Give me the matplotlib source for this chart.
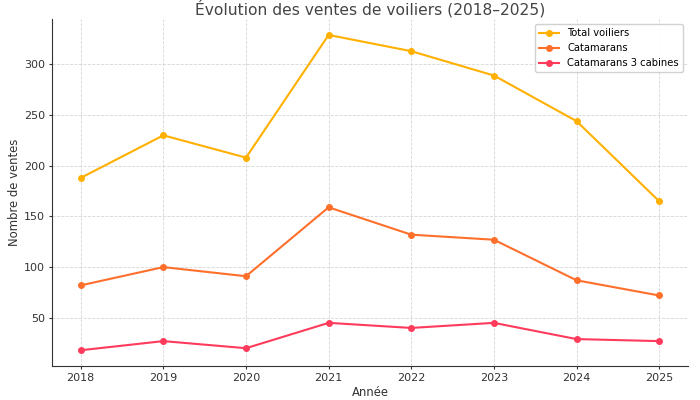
import matplotlib
matplotlib.use("Agg")
import matplotlib.pyplot as plt

years = [2018, 2019, 2020, 2021, 2022, 2023, 2024, 2025]
total_voiliers = [188, 230, 208, 329, 313, 289, 244, 165]
catamarans = [82, 100, 91, 159, 132, 127, 87, 72]
catamarans_3_cabines = [18, 27, 20, 45, 40, 45, 29, 27]

series_labels = ["Total voiliers", "Catamarans", "Catamarans 3 cabines"]
series_colors = ["#FFB000", "#FF6F2C", "#FF3B5C"]

plt.rcParams['font.family'] = ['DejaVu Sans']
fig, ax = plt.subplots(figsize=(7, 4), dpi=100)
fig.subplots_adjust(left=0.074, right=0.983, top=0.952, bottom=0.085)

for vals, lab, col in zip([total_voiliers, catamarans, catamarans_3_cabines], series_labels, series_colors):
    ax.plot(years, vals, marker='o', markersize=4, linewidth=1.5, color=col, label=lab)

ax.set_title("Évolution des ventes de voiliers (2018–2025)", fontsize=11.2, color='#444444', pad=3.5)
ax.set_xlabel("Année", fontsize=8.4, color='#333333', labelpad=2)
ax.set_ylabel("Nombre de ventes", fontsize=8.4, color='#333333', labelpad=2)
ax.set_xticks(years)
ax.tick_params(labelsize=8, colors='#333333', length=2.5, pad=2.5)
ax.grid(True, linestyle='--', linewidth=0.6, color='#cccccc', alpha=0.8)
for s in ['top', 'right']:
    ax.spines[s].set_visible(False)
for s in ['left', 'bottom']:
    ax.spines[s].set_color('#333333')
ax.legend(loc='upper right', fontsize=7.2, framealpha=0.9, edgecolor='#cccccc')

fig.savefig("out.png", dpi=100)
